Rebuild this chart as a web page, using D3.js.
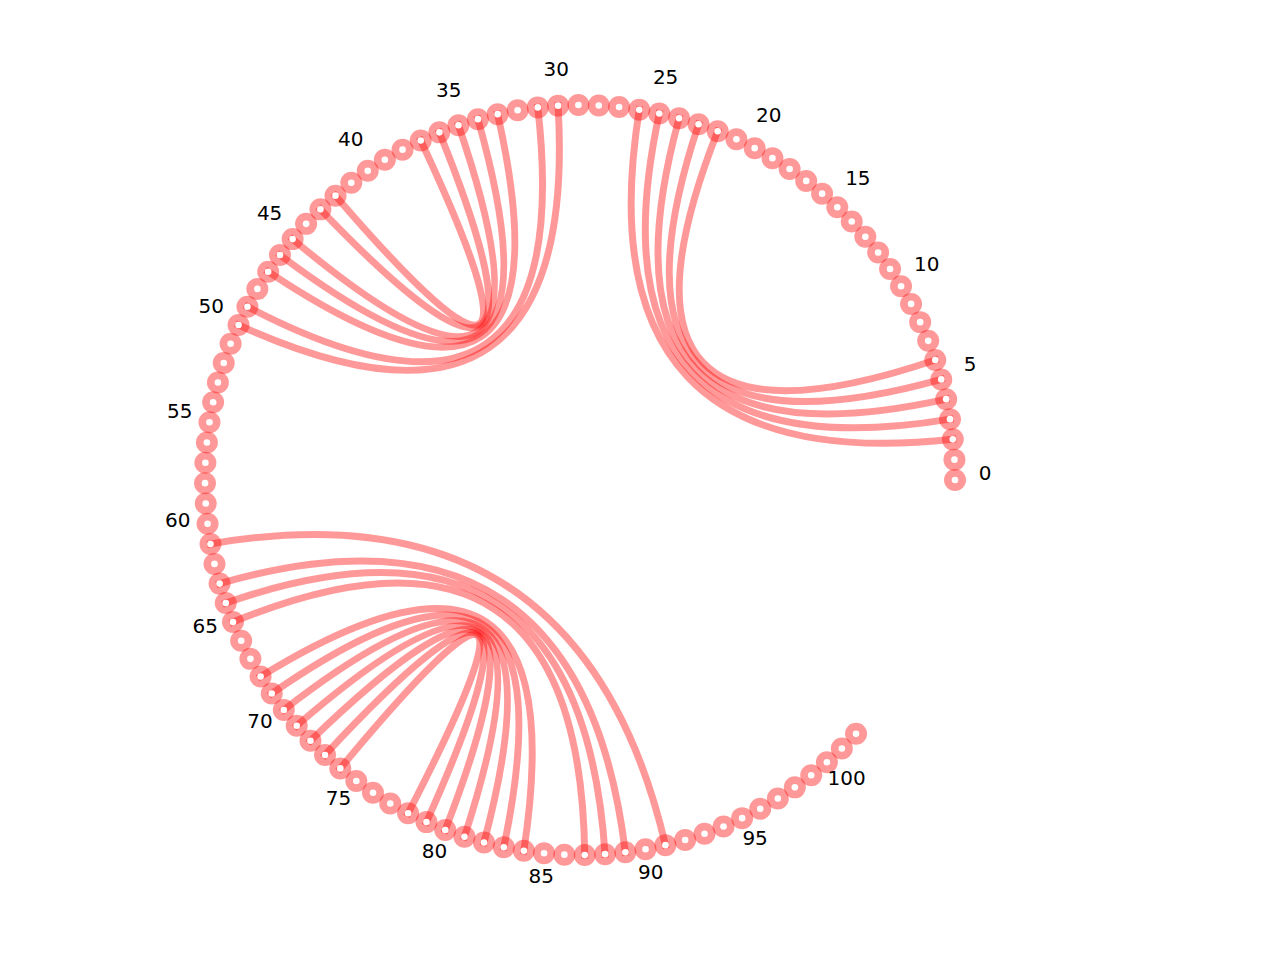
<!DOCTYPE html>
<html>
<head>
<meta charset="utf-8">
<script src="https://cdn.jsdelivr.net/npm/d3@7"></script>
<style>
  html, body { margin: 0; padding: 0; background: #fff; }
  svg { display: block; }
</style>
</head>
<body>
<svg id="chart"></svg>
<script>
// nodes 0..102 sit on a circle, every 5th one gets a label
const nodeCount = 103
const tickLabels = [0, 5, 10, 15, 20, 25, 30, 35, 40, 45, 50, 55, 60, 65, 70, 75, 80, 85, 90, 95, 100]

// edges as source / target node ids
const edgeSources = [2, 3, 4, 5, 6, 30, 31, 33, 34, 35, 36, 37, 61, 63, 64, 65, 68, 69, 70, 71, 72, 73, 74]
const edgeTargets = [26, 25, 24, 23, 22, 50, 49, 47, 46, 45, 43, 42, 91, 89, 88, 87, 84, 83, 82, 81, 80, 79, 78]

const width = 1280
const height = 960
const centerX = 580
const centerY = 480
const radius = 375
const labelRadius = 405

const svg = d3.select('#chart')
  .attr('width', width)
  .attr('height', height)

const nodes = d3.range(nodeCount)
const edges = edgeSources.map((s, i) => ({ source: s, target: edgeTargets[i] }))

// angle of each node, counter clockwise from the right
const angle = d3.scaleLinear()
  .domain([0, nodeCount - 1])
  .range([0, 317.4 * Math.PI / 180])

const px = (d, r = radius) => centerX + r * Math.cos(angle(d))
const py = (d, r = radius) => centerY - r * Math.sin(angle(d))

// edges: quadratic curves pulled towards the center
svg.append('g')
  .selectAll('path')
  .data(edges)
  .enter()
  .append('path')
  .attr('d', d => {
    const p = d3.path()
    p.moveTo(px(d.source), py(d.source))
    p.quadraticCurveTo(centerX, centerY, px(d.target), py(d.target))
    return p.toString()
  })
  .attr('fill', 'none')
  .attr('stroke', 'rgba(255,0,0,0.4)')
  .attr('stroke-width', 7)
  .attr('stroke-linecap', 'square')

// node rings
svg.append('g')
  .selectAll('circle')
  .data(nodes)
  .enter()
  .append('circle')
  .attr('cx', d => px(d))
  .attr('cy', d => py(d))
  .attr('r', 11)
  .attr('fill', 'rgba(255,0,0,0.4)')

// white centers
svg.append('g')
  .selectAll('circle')
  .data(nodes)
  .enter()
  .append('circle')
  .attr('cx', d => px(d))
  .attr('cy', d => py(d))
  .attr('r', 3.3)
  .attr('fill', '#fff')

// labels
svg.append('g')
  .selectAll('text')
  .data(tickLabels)
  .enter()
  .append('text')
  .attr('x', d => px(d, labelRadius))
  .attr('y', d => py(d, labelRadius))
  .attr('text-anchor', 'middle')
  .style('font-family', '"DejaVu Sans", sans-serif')
  .style('font-size', '20px')
  .attr('fill', '#000')
  .text(d => d)
</script>
</body>
</html>
